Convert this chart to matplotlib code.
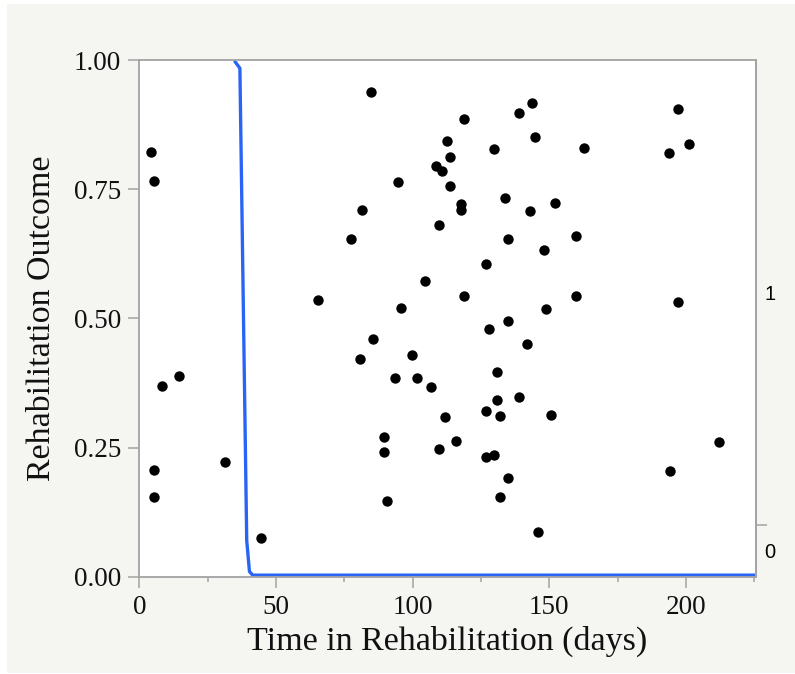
import matplotlib
matplotlib.use("Agg")
import matplotlib.pyplot as plt
from matplotlib.patches import Rectangle
from matplotlib.ticker import FixedLocator, NullFormatter, FixedFormatter

# ---- data ----
days = [4.3, 5.4, 65.5, 14.5, 8.4, 31.4, 5.4, 5.4, 44.4, 84.7,
        143.8, 138.9, 118.8, 144.9, 112.7, 129.8, 113.8, 108.6, 110.9, 94.7,
        113.8, 133.8, 117.8, 117.8, 81.6, 142.8, 109.8, 77.6, 134.8, 148.0,
        126.7, 104.7, 118.8, 95.6, 148.8, 134.8, 197.1, 201.0, 193.9, 162.8,
        152.0, 159.9, 159.9, 197.1, 128.0, 85.6, 142.0, 99.7, 80.8, 130.9,
        93.7, 101.7, 106.7, 138.9, 130.9, 126.7, 131.9, 150.5, 111.7, 89.6,
        89.6, 115.8, 109.7, 129.9, 126.7, 134.9, 131.9, 90.7, 145.9, 212.1,
        194.1]
outcome = [0.8225, 0.766, 0.5355, 0.388, 0.369, 0.2226, 0.2065, 0.155, 0.0755, 0.9387,
           0.917, 0.897, 0.886, 0.851, 0.843, 0.827, 0.812, 0.795, 0.786, 0.763,
           0.756, 0.732, 0.722, 0.710, 0.7097, 0.707, 0.680, 0.653, 0.653, 0.632,
           0.6045, 0.5717, 0.543, 0.5207, 0.518, 0.4955, 0.9046, 0.838, 0.8206, 0.830,
           0.7238, 0.6594, 0.544, 0.532, 0.480, 0.460, 0.4497, 0.4297, 0.422, 0.396,
           0.385, 0.385, 0.368, 0.348, 0.3413, 0.3207, 0.3117, 0.313, 0.3097, 0.270,
           0.2413, 0.2632, 0.2478, 0.2355, 0.231, 0.191, 0.155, 0.1465, 0.0865, 0.2607,
           0.205]

# fitted logistic curve
curve_x = [35.0, 36.8, 38.1, 39.3, 40.3, 41.5, 225.5]
curve_y = [0.997, 0.984, 0.5065, 0.07, 0.01, 0.003, 0.003]

x_ticks = [0, 50, 100, 150, 200]
x_minor = [25, 75, 125, 175, 225]
y_ticks = [0.0, 0.25, 0.5, 0.75, 1.0]
y_ticklabels = ["0.00", "0.25", "0.50", "0.75", "1.00"]
right_levels = [0.05, 0.55]
right_labels = ["0", "1"]
right_split = [0.1]

SERIF = "Liberation Serif"
SANS = "Liberation Sans"
GREY = "#a3a3a3"

fig = plt.figure(figsize=(7.95, 6.74), dpi=100)
fig.patch.set_facecolor("white")
fig.patches.append(Rectangle((7 / 795, 1 / 674), 1.0, 1 - 5 / 674,
                             transform=fig.transFigure, facecolor="#f5f5f2",
                             edgecolor="none", zorder=-10))

ax = fig.add_axes([139.3 / 795, 1 - 576.7 / 674, (755.7 - 139.3) / 795, (576.7 - 60) / 674])
ax.set_facecolor("white")

ax.plot(curve_x, curve_y, color="#2a64f6", lw=2.4, zorder=2,
        solid_joinstyle="round", solid_capstyle="round")
ax.scatter(days, outcome, s=56, color="black", zorder=3, linewidths=0)

ax.set_xlim(0, 225.5)
ax.set_ylim(0, 1)

ax.set_xticks(x_ticks)
ax.set_xticklabels([str(v) for v in x_ticks], fontfamily=SERIF, fontsize=19.5)
ax.xaxis.set_minor_locator(FixedLocator(x_minor))
ax.set_yticks(y_ticks)
ax.set_yticklabels(y_ticklabels, fontfamily=SERIF, fontsize=19.5)

ax.tick_params(axis="both", which="major", direction="out", length=8, width=1.1,
               color=GREY, labelcolor="#111111")
ax.tick_params(axis="x", which="major", pad=5)
ax.tick_params(axis="y", which="major", pad=5)
ax.tick_params(axis="x", which="minor", direction="out", length=3.6, width=1.1, color=GREY)

for s in ax.spines.values():
    s.set_color(GREY)
    s.set_linewidth(1.3)

ax.set_xlabel("Time in Rehabilitation (days)", fontfamily=SERIF, fontsize=24.5,
              color="#111111", labelpad=4)
ax.set_ylabel("Rehabilitation Outcome", fontfamily=SERIF, fontsize=24.5,
              color="#111111", labelpad=12)

# right-hand response axis
ax2 = ax.twinx()
ax2.set_ylim(0, 1)
ax2.yaxis.set_major_locator(FixedLocator(right_split))
ax2.yaxis.set_major_formatter(NullFormatter())
ax2.yaxis.set_minor_locator(FixedLocator(right_levels))
ax2.yaxis.set_minor_formatter(FixedFormatter(right_labels))
ax2.tick_params(axis="y", which="major", direction="out", length=8, width=1.1, color=GREY)
ax2.tick_params(axis="y", which="minor", length=0, pad=6, labelsize=14.5)
for lab in ax2.yaxis.get_minorticklabels():
    lab.set_fontfamily(SANS)
for name, s in ax2.spines.items():
    if name == "right":
        s.set_color(GREY)
        s.set_linewidth(1.3)
    else:
        s.set_visible(False)

fig.savefig("out.png", dpi=100, facecolor=fig.get_facecolor())
